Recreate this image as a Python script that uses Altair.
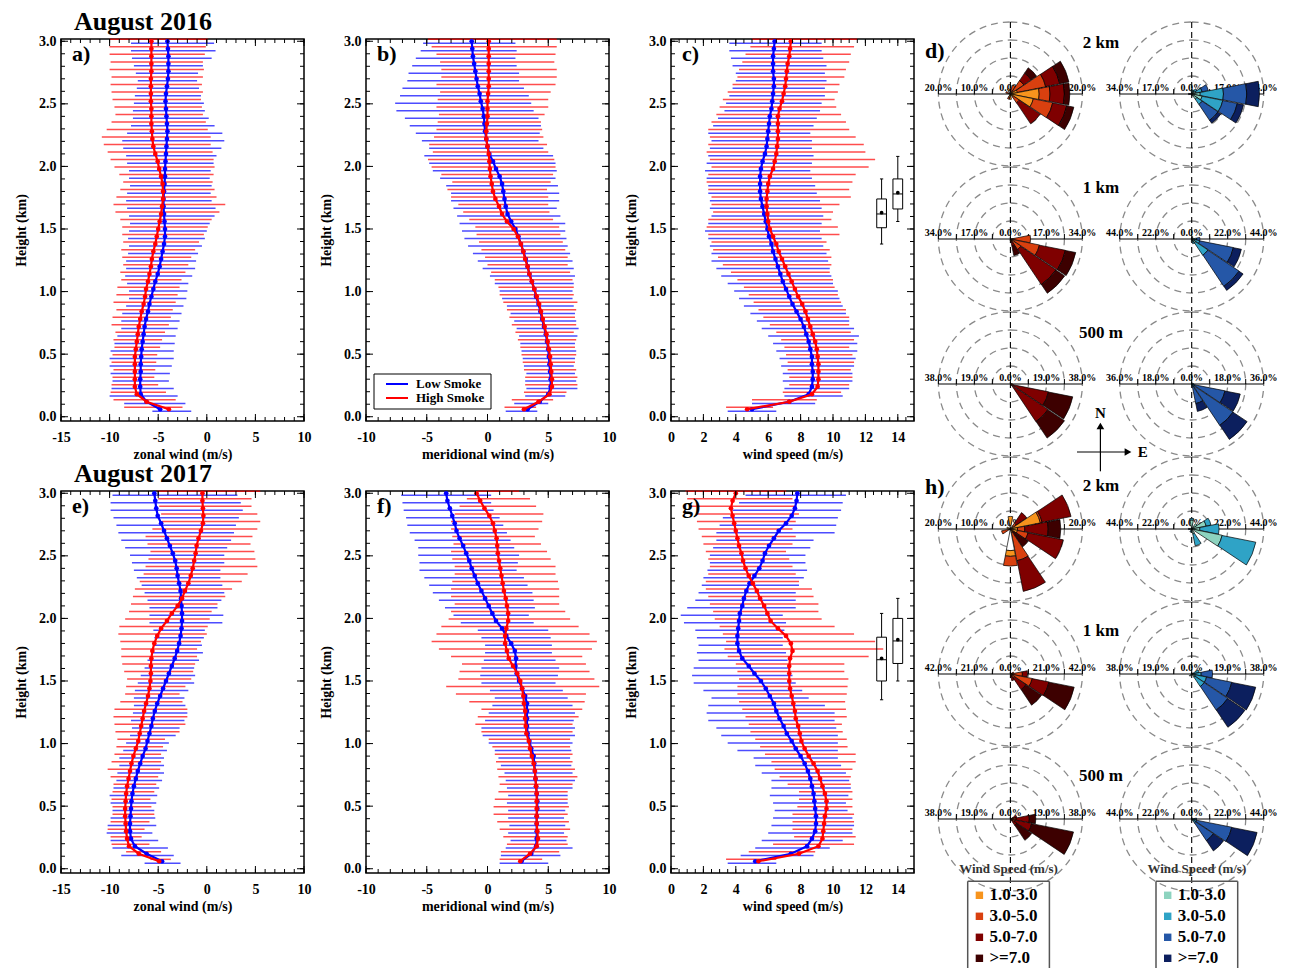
import pandas as pd
import altair as alt

FONT = "Liberation Serif"
BLUE = "#0000ff"
RED = "#ff0000"

# ---------------------------------------------------------------- profiles
HEIGHT_KM = [0.06, 0.12, 0.18, 0.24, 0.30, 0.36, 0.42, 0.48, 0.54, 0.60,
             0.66, 0.72, 0.78, 0.84, 0.90, 0.96, 1.02, 1.08, 1.14, 1.20,
             1.26, 1.32, 1.38, 1.44, 1.50, 1.56, 1.62, 1.68, 1.74, 1.80,
             1.86, 1.92, 1.98, 2.04, 2.10, 2.16, 2.22, 2.28, 2.34, 2.40,
             2.46, 2.52, 2.58, 2.64, 2.70, 2.76, 2.82, 2.88, 2.94, 3.00]

# a) zonal wind, August 2016
U16_LOW_MEAN = [-4.8, -6.2, -6.8, -6.85, -6.85, -6.8, -6.8, -6.75, -6.7, -6.6, -6.5, -6.4, -6.25, -6.05, -5.9, -5.7, -5.5, -5.3, -5.05, -4.85, -4.7, -4.55, -4.4, -4.3, -4.3, -4.35, -4.4, -4.45, -4.45, -4.4, -4.35, -4.3, -4.3, -4.25, -4.2, -4.15, -4.1, -4.05, -4.1, -4.15, -4.2, -4.25, -4.2, -4.1, -4.0, -3.95, -3.95, -3.95, -4.0, -4.05]
U16_LOW_LO = [-5.6, -8.5, -10.0, -9.8, -9.7, -9.9, -10.0, -10.0, -9.9, -9.5, -9.2, -8.8, -8.8, -8.7, -8.3, -8.0, -8.0, -8.2, -8.4, -8.3, -8.3, -8.1, -8.0, -8.1, -8.0, -7.9, -8.0, -8.2, -8.3, -8.2, -7.9, -8.0, -8.0, -8.2, -8.3, -8.6, -8.7, -8.2, -7.8, -7.6, -7.6, -7.5, -7.4, -7.2, -7.1, -7.3, -7.5, -7.7, -7.8, -7.8]
U16_LOW_HI = [-1.6, -2.2, -3.0, -3.4, -3.9, -3.8, -3.6, -3.4, -3.4, -3.3, -3.2, -3.0, -2.8, -2.6, -2.4, -2.1, -2.0, -1.9, -1.5, -1.2, -1.1, -0.9, -0.5, -0.2, 0.0, 0.3, 0.8, 0.9, 0.5, 0.4, 0.5, 0.3, 0.4, 0.7, 1.0, 1.5, 1.8, 1.6, 0.8, 0.2, -0.2, -0.3, -0.6, -0.8, -1.0, -0.9, -0.4, 0.5, 0.9, 0.75]
U16_HIGH_MEAN = [-3.9, -6.2, -7.2, -7.4, -7.4, -7.4, -7.4, -7.4, -7.3, -7.2, -7.1, -7.0, -6.85, -6.7, -6.5, -6.35, -6.25, -6.05, -5.9, -5.75, -5.65, -5.5, -5.3, -5.15, -5.0, -4.85, -4.7, -4.6, -4.5, -4.5, -4.55, -4.7, -4.9, -5.05, -5.3, -5.5, -5.6, -5.65, -5.7, -5.7, -5.7, -5.75, -5.75, -5.75, -5.75, -5.7, -5.7, -5.7, -5.7, -5.7]
U16_HIGH_LO = [-8.5, -9.6, -9.9, -9.8, -9.7, -9.6, -9.8, -9.7, -9.5, -9.6, -9.4, -9.8, -9.7, -9.3, -9.6, -9.3, -9.2, -8.8, -8.9, -8.6, -8.7, -8.8, -8.6, -8.7, -8.7, -8.9, -9.4, -9.6, -9.3, -8.9, -8.6, -9.0, -9.5, -9.9, -10.2, -10.6, -10.8, -10.3, -9.8, -9.4, -9.5, -9.7, -9.8, -9.9, -9.8, -10.0, -9.9, -10.0, -10.0, -10.0]
U16_HIGH_HI = [-2.5, -3.2, -4.2, -5.0, -5.4, -5.3, -5.2, -5.1, -4.8, -4.6, -4.3, -3.9, -3.7, -3.5, -3.2, -3.0, -2.8, -2.6, -2.2, -1.9, -1.6, -1.2, -0.8, -0.3, 0.1, 0.5, 1.3, 1.9, 1.0, 0.8, 0.6, 0.7, 0.8, 0.7, 0.6, 0.4, 0.4, 0.1, -0.1, -0.4, -0.5, -0.6, -0.4, -0.5, -0.4, -0.3, -0.4, -0.2, -0.1, 0.1]

# b) meridional wind, August 2016
V16_LOW_MEAN = [3.3, 4.3, 5.0, 5.2, 5.2, 5.15, 5.1, 5.05, 5.0, 4.9, 4.8, 4.65, 4.5, 4.35, 4.2, 4.0, 3.85, 3.65, 3.45, 3.3, 3.15, 2.95, 2.75, 2.55, 2.3, 1.95, 1.65, 1.5, 1.4, 1.3, 1.2, 1.0, 0.7, 0.45, 0.15, 0.0, -0.1, -0.2, -0.25, -0.3, -0.4, -0.55, -0.65, -0.8, -0.9, -1.0, -1.1, -1.2, -1.25, -1.3]
V16_LOW_LO = [1.5, 2.2, 3.1, 3.2, 3.1, 3.2, 3.0, 2.9, 2.8, 2.7, 2.6, 2.4, 2.2, 1.9, 1.6, 1.2, 1.0, 0.6, 0.2, -0.4, -0.8, -1.2, -1.6, -1.9, -2.1, -2.3, -2.5, -2.8, -3.0, -3.0, -3.4, -3.9, -4.5, -4.8, -5.2, -4.8, -5.4, -5.9, -6.4, -6.8, -7.5, -7.6, -7.2, -7.0, -6.6, -6.5, -6.2, -5.9, -5.5, -5.3]
V16_LOW_HI = [4.1, 5.0, 6.4, 7.4, 7.3, 7.2, 7.1, 7.2, 7.3, 7.2, 7.4, 7.5, 7.3, 7.2, 7.1, 7.0, 7.0, 7.1, 7.2, 7.1, 7.0, 6.8, 6.6, 6.5, 6.4, 6.4, 6.0, 5.7, 5.9, 5.9, 5.8, 5.6, 5.7, 5.6, 5.4, 4.6, 4.2, 4.3, 4.4, 4.2, 3.8, 3.6, 3.4, 3.0, 2.6, 2.6, 2.4, 2.3, 2.4, 2.3]
V16_HIGH_MEAN = [3.0, 4.2, 5.1, 5.3, 5.3, 5.25, 5.2, 5.15, 5.05, 4.95, 4.85, 4.7, 4.55, 4.4, 4.25, 4.05, 3.85, 3.65, 3.45, 3.3, 3.1, 2.95, 2.75, 2.5, 2.15, 1.6, 1.2, 0.95, 0.65, 0.45, 0.35, 0.25, 0.2, 0.15, 0.1, 0.0, -0.1, -0.1, -0.05, 0.0, 0.0, 0.0, 0.05, 0.1, 0.1, 0.1, 0.1, 0.1, 0.1, 0.1]
V16_HIGH_LO = [1.4, 2.0, 3.0, 3.1, 3.1, 3.0, 2.9, 2.8, 2.7, 2.5, 2.3, 2.0, 1.8, 1.6, 1.3, 1.0, 0.9, 0.6, 0.3, 0.0, -0.2, -0.5, -0.7, -0.9, -1.0, -1.5, -2.0, -2.4, -3.0, -3.3, -2.9, -3.8, -4.6, -4.9, -4.5, -4.8, -4.4, -4.2, -4.1, -4.0, -4.2, -4.1, -3.9, -4.2, -3.8, -3.8, -3.9, -4.2, -4.6, -4.9]
V16_HIGH_HI = [4.0, 5.4, 6.5, 7.4, 7.4, 7.3, 7.2, 7.3, 7.2, 7.3, 7.1, 7.3, 7.2, 7.3, 7.4, 7.1, 7.1, 7.0, 6.8, 6.6, 6.6, 6.4, 6.2, 6.0, 5.9, 5.4, 5.1, 5.0, 5.0, 4.9, 5.2, 5.4, 5.6, 5.5, 5.0, 4.9, 4.6, 4.5, 4.4, 4.7, 5.0, 5.0, 5.2, 5.6, 5.7, 5.7, 5.5, 5.6, 5.7, 5.7]

# c) wind speed, August 2016
S16_LOW_MEAN = [5.0, 7.3, 8.5, 8.7, 8.75, 8.75, 8.7, 8.7, 8.6, 8.5, 8.35, 8.2, 8.0, 7.75, 7.5, 7.3, 7.1, 6.9, 6.75, 6.6, 6.45, 6.3, 6.2, 6.05, 5.95, 5.85, 5.75, 5.65, 5.55, 5.5, 5.5, 5.5, 5.55, 5.65, 5.8, 5.9, 5.95, 6.0, 6.05, 6.1, 6.2, 6.25, 6.3, 6.35, 6.35, 6.3, 6.3, 6.3, 6.35, 6.4]
S16_LOW_LO = [3.5, 5.0, 7.0, 7.0, 6.9, 6.9, 6.8, 6.7, 6.5, 6.3, 6.0, 5.6, 5.3, 4.9, 4.5, 4.2, 3.9, 3.5, 3.1, 2.8, 2.5, 2.5, 2.4, 2.3, 2.1, 2.3, 2.5, 2.4, 2.4, 2.3, 2.3, 2.2, 2.1, 2.2, 2.3, 2.4, 2.5, 2.3, 2.6, 2.9, 3.3, 3.4, 3.6, 3.8, 4.0, 4.0, 3.8, 3.7, 3.6, 3.6]
S16_LOW_HI = [6.5, 8.9, 10.6, 11.0, 11.2, 11.2, 11.3, 11.4, 11.5, 11.5, 11.6, 11.3, 11.0, 10.8, 10.6, 10.4, 10.3, 10.0, 9.9, 9.8, 9.7, 9.6, 9.4, 9.3, 9.2, 9.3, 9.4, 9.3, 9.2, 9.0, 8.9, 8.7, 8.6, 8.7, 8.8, 8.7, 8.7, 8.6, 8.8, 9.0, 9.2, 9.3, 9.5, 9.5, 9.6, 9.5, 9.6, 9.4, 9.3, 9.3]
S16_HIGH_MEAN = [4.7, 7.3, 8.7, 9.05, 9.1, 9.1, 9.1, 9.05, 9.0, 8.9, 8.75, 8.6, 8.45, 8.3, 8.1, 7.85, 7.65, 7.45, 7.25, 7.05, 6.85, 6.65, 6.5, 6.3, 6.1, 6.0, 5.95, 5.9, 5.9, 5.95, 6.0, 6.1, 6.3, 6.4, 6.5, 6.55, 6.6, 6.6, 6.6, 6.6, 6.7, 6.85, 6.95, 7.05, 7.1, 7.15, 7.2, 7.3, 7.35, 7.4]
S16_HIGH_LO = [3.4, 5.0, 6.9, 7.3, 7.3, 7.2, 7.2, 7.1, 7.0, 6.8, 6.5, 6.1, 5.7, 5.4, 5.1, 4.8, 4.5, 4.1, 3.7, 3.2, 2.9, 2.6, 2.5, 2.3, 2.2, 2.3, 2.6, 2.5, 2.5, 2.3, 2.2, 2.3, 2.5, 2.4, 2.2, 2.3, 2.4, 2.3, 2.5, 2.8, 3.0, 3.2, 3.5, 3.8, 4.1, 4.2, 4.4, 4.6, 4.9, 5.0]
S16_HIGH_HI = [6.3, 9.0, 10.5, 11.0, 11.2, 11.1, 11.3, 11.2, 11.0, 11.3, 11.1, 11.0, 11.0, 10.8, 10.5, 10.3, 10.1, 10.0, 9.8, 9.9, 9.9, 9.8, 9.6, 10.4, 10.3, 9.9, 10.0, 10.4, 11.1, 11.0, 11.2, 11.4, 12.2, 12.6, 12.0, 11.9, 11.4, 11.0, 10.8, 10.5, 10.2, 10.1, 10.3, 10.4, 10.7, 10.8, 11.0, 11.1, 11.3, 11.5]

# e) zonal wind, August 2017
U17_LOW_MEAN = [-4.6, -6.2, -7.4, -7.8, -7.9, -7.9, -7.85, -7.8, -7.75, -7.65, -7.5, -7.3, -7.1, -6.85, -6.6, -6.3, -6.1, -5.9, -5.7, -5.55, -5.35, -5.1, -4.8, -4.5, -4.2, -3.9, -3.6, -3.3, -3.05, -2.85, -2.7, -2.6, -2.55, -2.55, -2.6, -2.65, -2.7, -2.85, -3.0, -3.1, -3.25, -3.5, -3.8, -4.1, -4.4, -4.7, -5.05, -5.2, -5.3, -5.4]
U17_LOW_LO = [-6.4, -8.8, -9.7, -9.9, -10.3, -10.2, -9.9, -9.7, -9.9, -10.0, -9.6, -9.3, -9.2, -9.0, -9.0, -8.6, -8.3, -7.9, -7.7, -7.8, -7.6, -7.5, -7.5, -7.4, -7.1, -6.8, -6.4, -6.1, -5.6, -5.5, -5.4, -5.5, -5.9, -5.9, -5.9, -6.1, -6.4, -6.7, -7.2, -7.5, -7.7, -7.9, -8.4, -8.8, -9.1, -9.3, -9.6, -9.9, -9.9, -9.7]
U17_LOW_HI = [-2.7, -3.4, -4.0, -5.0, -5.6, -5.2, -5.3, -5.4, -5.2, -5.1, -4.9, -4.6, -4.4, -4.4, -4.4, -4.1, -3.9, -3.2, -2.8, -2.3, -2.0, -2.2, -2.3, -1.9, -1.3, -1.2, -1.3, -0.8, -0.4, -0.5, -0.3, -0.2, 1.6, 1.7, 1.1, 1.5, 1.8, 1.6, 1.4, 1.4, 1.8, 1.8, 2.1, 2.5, 2.8, 3.0, 3.3, 3.7, 3.5, 3.15]
U17_HIGH_MEAN = [-4.9, -7.0, -8.0, -8.2, -8.3, -8.35, -8.4, -8.4, -8.35, -8.3, -8.2, -8.05, -7.9, -7.75, -7.55, -7.3, -7.05, -6.9, -6.75, -6.6, -6.45, -6.25, -6.05, -5.9, -5.8, -5.75, -5.75, -5.7, -5.6, -5.4, -5.1, -4.7, -4.1, -3.6, -3.0, -2.55, -2.25, -1.9, -1.65, -1.45, -1.3, -1.15, -1.05, -0.85, -0.6, -0.4, -0.35, -0.4, -0.45, -0.45]
U17_HIGH_LO = [-5.8, -8.3, -9.8, -9.9, -10.2, -9.9, -9.7, -9.7, -9.8, -9.7, -9.6, -9.9, -10.2, -9.8, -9.5, -9.3, -9.2, -9.4, -9.5, -9.6, -9.5, -8.9, -8.4, -8.3, -8.2, -8.5, -8.7, -8.8, -8.8, -8.9, -9.1, -9.0, -8.4, -8.0, -7.8, -7.6, -7.4, -6.9, -6.5, -6.3, -6.0, -5.8, -6.1, -6.3, -5.6, -4.6, -4.7, -4.9, -5.0, -5.1]
U17_HIGH_HI = [-3.7, -4.7, -5.9, -6.7, -6.4, -5.9, -5.4, -5.7, -5.8, -5.4, -5.2, -5.0, -4.8, -4.7, -4.7, -4.5, -4.3, -2.8, -2.2, -2.0, -2.0, -2.5, -2.8, -2.2, -1.6, -1.4, -1.2, -1.0, -1.0, -0.6, 0.0, 0.1, 0.3, 0.5, 1.1, 1.9, 2.6, 3.6, 4.2, 5.2, 5.0, 4.9, 4.5, 4.7, 5.2, 5.5, 5.2, 4.6, 4.6, 5.5]

# f) meridional wind, August 2017
V17_LOW_MEAN = [2.8, 3.6, 4.0, 4.05, 4.05, 4.05, 4.05, 4.1, 4.1, 4.05, 4.0, 3.95, 3.9, 3.85, 3.8, 3.6, 3.45, 3.3, 3.25, 3.25, 3.25, 3.25, 3.1, 2.85, 2.6, 2.4, 2.3, 2.35, 2.25, 1.95, 1.55, 1.2, 0.7, 0.4, 0.1, -0.2, -0.5, -0.8, -1.05, -1.3, -1.5, -1.75, -2.0, -2.3, -2.55, -2.7, -2.9, -3.1, -3.3, -3.4]
V17_LOW_LO = [1.0, 1.1, 1.5, 1.9, 1.7, 1.8, 1.7, 1.7, 1.6, 1.7, 1.6, 1.5, 1.4, 1.1, 0.9, 0.6, 0.1, -0.4, -0.5, -0.2, 0.1, 0.4, 0.6, 0.2, -0.5, -0.6, -0.5, -0.3, -0.2, -0.2, -0.5, -0.8, -2.2, -2.8, -3.5, -4.0, -4.5, -4.8, -5.2, -5.6, -5.6, -5.7, -5.7, -6.0, -6.4, -6.6, -6.7, -6.9, -7.0, -7.1]
V17_LOW_HI = [5.0, 6.0, 7.0, 6.5, 6.3, 6.4, 6.3, 6.4, 6.6, 6.6, 7.0, 7.2, 7.0, 6.9, 6.8, 6.9, 7.0, 7.2, 7.2, 7.1, 7.2, 7.0, 6.6, 6.2, 5.6, 5.8, 5.9, 5.6, 5.3, 5.3, 5.2, 5.0, 3.8, 3.4, 3.9, 3.8, 3.7, 3.3, 3.0, 2.4, 2.5, 2.6, 2.2, 1.9, 1.6, 1.3, 1.0, 0.5, 0.3, 0.3]
V17_HIGH_MEAN = [2.7, 3.5, 4.05, 4.15, 4.1, 4.05, 4.05, 4.05, 4.05, 4.05, 4.0, 3.95, 3.9, 3.8, 3.65, 3.5, 3.4, 3.2, 3.15, 3.1, 3.1, 3.0, 2.95, 2.85, 2.7, 2.45, 2.1, 1.75, 1.6, 1.45, 1.45, 1.55, 1.7, 1.7, 1.6, 1.5, 1.35, 1.25, 1.15, 1.05, 0.95, 0.85, 0.8, 0.75, 0.6, 0.45, 0.15, -0.25, -0.6, -0.9]
V17_HIGH_LO = [1.0, 1.1, 1.6, 1.3, 1.0, 0.8, 0.5, 0.5, 0.6, 0.9, 1.0, 0.9, 0.8, 0.7, 0.6, 0.4, 0.1, -0.5, -1.0, -0.8, -0.5, -1.5, -2.6, -3.4, -2.4, -2.3, -2.1, -3.0, -4.0, -4.6, -4.2, -3.8, -3.2, -3.0, -2.7, -3.0, -3.0, -2.9, -2.7, -2.7, -2.9, -3.0, -2.8, -2.9, -3.0, -3.0, -2.7, -2.3, -1.7, -0.8]
V17_HIGH_HI = [4.5, 5.9, 6.6, 6.6, 6.8, 6.7, 6.6, 6.7, 6.6, 6.6, 7.0, 7.4, 7.2, 7.0, 7.0, 6.8, 6.8, 7.0, 7.0, 7.5, 7.8, 8.0, 8.1, 9.2, 8.8, 8.4, 8.1, 7.8, 8.6, 9.0, 8.4, 7.5, 6.8, 6.4, 5.9, 5.9, 5.9, 5.8, 5.6, 5.6, 5.2, 4.9, 4.4, 3.9, 4.2, 4.5, 4.6, 4.0, 3.5, 2.6]

# g) wind speed, August 2017
S17_LOW_MEAN = [5.2, 7.4, 8.4, 8.7, 8.9, 8.95, 8.95, 8.9, 8.85, 8.8, 8.7, 8.6, 8.45, 8.25, 8.0, 7.7, 7.45, 7.15, 6.95, 6.7, 6.5, 6.35, 6.1, 5.85, 5.55, 5.15, 4.8, 4.4, 4.2, 4.1, 4.1, 4.15, 4.2, 4.25, 4.4, 4.5, 4.65, 4.85, 5.15, 5.45, 5.65, 5.8, 6.05, 6.35, 6.65, 7.1, 7.45, 7.65, 7.75, 7.8]
S17_LOW_LO = [3.5, 4.3, 5.2, 5.6, 6.0, 6.2, 6.3, 6.4, 6.3, 6.1, 6.2, 6.2, 5.6, 5.2, 5.1, 4.1, 3.5, 3.1, 2.8, 2.3, 2.2, 2.3, 2.5, 2.0, 1.4, 1.3, 1.4, 1.7, 1.6, 1.7, 1.6, 1.5, 0.8, 0.6, 1.0, 1.5, 1.7, 1.9, 2.0, 2.25, 2.4, 2.4, 2.6, 2.8, 2.8, 3.0, 3.2, 3.8, 4.2, 4.6]
S17_LOW_HI = [6.5, 8.8, 9.8, 10.6, 11.2, 11.3, 11.2, 10.9, 10.8, 10.95, 11.1, 11.0, 10.8, 10.5, 10.3, 10.3, 10.3, 10.3, 10.2, 10.1, 10.1, 9.5, 8.5, 8.1, 7.7, 7.5, 7.3, 7.2, 7.1, 6.9, 6.9, 7.0, 7.1, 6.9, 7.7, 7.7, 7.7, 7.9, 8.2, 8.4, 8.3, 8.3, 8.6, 8.8, 10.1, 10.2, 10.3, 10.5, 10.6, 10.8]
S17_HIGH_MEAN = [5.4, 7.9, 9.1, 9.35, 9.4, 9.45, 9.5, 9.6, 9.6, 9.5, 9.35, 9.2, 9.05, 8.8, 8.5, 8.25, 8.05, 7.95, 7.85, 7.7, 7.65, 7.55, 7.45, 7.35, 7.3, 7.3, 7.3, 7.35, 7.5, 7.4, 7.1, 6.6, 6.15, 5.95, 5.75, 5.5, 5.3, 5.05, 4.8, 4.6, 4.45, 4.35, 4.2, 4.1, 4.0, 3.9, 3.8, 3.7, 3.8, 4.0]
S17_HIGH_LO = [3.4, 4.8, 6.3, 7.6, 7.5, 7.5, 7.5, 7.8, 7.9, 7.9, 7.2, 6.7, 6.4, 6.2, 5.8, 5.5, 5.2, 4.9, 4.8, 4.6, 4.4, 4.2, 4.1, 4.1, 4.2, 4.1, 4.0, 3.5, 3.3, 3.4, 3.2, 3.0, 2.7, 2.6, 2.4, 2.3, 2.15, 2.15, 2.3, 2.4, 2.3, 2.15, 2.0, 1.9, 1.7, 1.6, 1.6, 1.2, 1.0, 0.9]
S17_HIGH_HI = [6.5, 8.9, 11.3, 11.4, 11.2, 11.3, 11.3, 11.2, 11.2, 11.2, 11.1, 11.1, 11.2, 11.4, 11.4, 10.9, 10.85, 10.6, 10.55, 10.85, 10.8, 10.75, 10.85, 10.9, 10.95, 10.7, 10.7, 12.2, 13.1, 12.6, 11.3, 10.1, 9.3, 9.1, 9.1, 8.8, 8.7, 7.9, 7.7, 7.5, 7.3, 7.1, 7.5, 7.7, 7.5, 7.7, 7.9, 7.7, 7.5, 7.1]

# boundary-layer-top box plots (km) drawn at x = 13 and 14 in c) and g)
BOX_POS = [13, 14]
BOX16_WLO = [1.38, 1.56]
BOX16_Q1 = [1.51, 1.66]
BOX16_MED = [1.62, 1.78]
BOX16_Q3 = [1.74, 1.90]
BOX16_WHI = [1.90, 2.08]
BOX16_MEAN = [1.63, 1.79]
BOX17_WLO = [1.35, 1.50]
BOX17_Q1 = [1.50, 1.64]
BOX17_MED = [1.67, 1.82]
BOX17_Q3 = [1.85, 2.00]
BOX17_WHI = [2.04, 2.16]
BOX17_MEAN = [1.68, 1.83]

# ---------------------------------------------------------------- wind roses
# (direction deg, calm, 1-3, 3-5, 5-7, >=7) frequencies in %
SPEED_LABELS = ["1.0-3.0", "3.0-5.0", "5.0-7.0", ">=7.0"]
HOT = ["#ffffff", "#f7941d", "#d9400f", "#7f0000", "#3d0000"]
COOL = ["#ffffff", "#8dd3bf", "#2fa3c6", "#2557a7", "#0c1f5e"]

ROSE_D_2KM_LOW = [(22.5, 0, 0.5, 2.0, 0, 0), (45, 0, 1.0, 3.5, 2.5, 1.8), (67.5, 0, 2.0, 8.0, 4.0, 2.6),
                  (90, 0, 8.0, 3.0, 4.0, 1.5), (112.5, 0, 6.5, 5.5, 4.0, 2.0), (135, 0, 1.0, 2.0, 7.0, 0),
                  (180, 0, 1.5, 0, 0, 0), (202.5, 0, 1.0, 0.5, 0, 0), (292.5, 0, 0.5, 0.8, 0, 0),
                  (337.5, 1.0, 0.5, 0, 0, 0)]
ROSE_D_2KM_HIGH = [(0, 0, 1.5, 0, 0, 0), (22.5, 0, 1.0, 1.0, 0, 0), (45, 0, 1.5, 1.5, 0, 0),
                   (67.5, 0, 2.0, 3.0, 3.0, 0), (90, 0, 4.0, 11.0, 11.0, 6.0), (112.5, 0, 5.0, 10.0, 7.0, 3.0),
                   (135, 0, 3.0, 3.0, 9.0, 1.7), (157.5, 0, 1.0, 0, 0, 0), (270, 0, 0, 0, 0, 1.5)]
ROSE_D_1KM_LOW = [(90, 0, 1.0, 8.5, 0, 0), (112.5, 0, 1.0, 13.0, 12.5, 5.0), (135, 0, 0.5, 5.5, 20.0, 5.0),
                  (157.5, 0, 0.5, 1.0, 2.0, 4.5), (180, 0, 0.8, 0, 0, 0)]
ROSE_D_1KM_HIGH = [(22.5, 0, 1.5, 0, 0, 0), (90, 0, 1.0, 2.0, 2.0, 0), (112.5, 0, 2.0, 3.0, 21.0, 5.0),
                   (135, 0, 3.0, 9.0, 23.0, 3.0), (157.5, 0, 1.0, 2.0, 0, 0), (180, 0, 1.5, 0, 0, 0)]
ROSE_D_500M_LOW = [(90, 0, 0, 1.0, 0, 0), (112.5, 0, 0, 1.5, 19.0, 13.1), (135, 0, 0, 1.0, 23.0, 10.5)]
ROSE_D_500M_HIGH = [(90, 0, 0.5, 0.5, 0, 0), (112.5, 0, 0.5, 1.0, 15.5, 7.8), (135, 0, 0.5, 1.0, 23.5, 8.5),
                    (157.5, 0, 0, 1.0, 9.0, 4.0)]
ROSE_H_2KM_LOW = [(0, 1.0, 2.5, 0, 0, 0), (45, 0, 1.0, 1.0, 3.5, 0), (67.5, 0.5, 8.0, 0.5, 8.2, 0),
                  (90, 0, 2.0, 2.0, 6.5, 3.5), (112.5, 0, 2.0, 3.0, 10.0, 0), (135, 0, 0, 1.0, 0, 5.0),
                  (157.5, 0, 1.0, 8.0, 8.7, 0), (180, 6.0, 1.6, 2.7, 0, 0), (247.5, 0, 0.5, 2.0, 0, 0),
                  (292.5, 0, 1.0, 0, 0, 0)]
ROSE_H_2KM_HIGH = [(0, 0, 5.5, 1.0, 0, 0), (45, 0, 4.0, 0, 0, 0), (67.5, 0, 9.0, 3.0, 0, 0),
                   (90, 0, 5.0, 11.7, 0, 0), (112.5, 0, 19.0, 21.0, 0, 0), (157.5, 0, 3.0, 7.5, 0, 0),
                   (202.5, 0, 1.0, 1.0, 0, 0), (270, 0, 1.0, 0, 0, 1.0)]
ROSE_H_1KM_LOW = [(67.5, 0, 0.5, 1.5, 0, 0), (90, 0, 1.0, 6.0, 3.0, 0), (112.5, 0, 1.0, 12.0, 10.0, 15.0),
                  (135, 0, 1.0, 2.0, 8.0, 11.0), (157.5, 0, 0.5, 1.0, 2.5, 0)]
ROSE_H_1KM_HIGH = [(67.5, 0, 1.0, 3.0, 0, 0), (90, 0, 1.0, 4.0, 6.0, 0), (112.5, 0, 2.0, 6.0, 13.6, 12.9),
                   (135, 0, 2.0, 6.0, 15.0, 11.0), (225, 0, 1.5, 0, 0, 0)]
ROSE_H_500M_LOW = [(67.5, 0, 0.5, 1.0, 2.0, 0), (90, 0, 1.0, 2.0, 7.0, 3.4), (112.5, 0, 0.5, 2.0, 9.0, 22.5),
                   (135, 0, 0, 0, 4.0, 9.6)]
ROSE_H_500M_HIGH = [(90, 0, 0.5, 1.5, 1.0, 0), (112.5, 0, 1.0, 2.0, 22.0, 15.8), (135, 0, 1.0, 2.0, 13.0, 7.6)]

ROSE_TABLES = [ROSE_D_2KM_LOW, ROSE_D_2KM_HIGH, ROSE_D_1KM_LOW, ROSE_D_1KM_HIGH,
               ROSE_D_500M_LOW, ROSE_D_500M_HIGH, ROSE_H_2KM_LOW, ROSE_H_2KM_HIGH,
               ROSE_H_1KM_LOW, ROSE_H_1KM_HIGH, ROSE_H_500M_LOW, ROSE_H_500M_HIGH]
ROSE_MAX = [20, 34, 34, 44, 38, 36, 20, 44, 42, 38, 38, 44]
LEVEL_NAMES = ["2 km", "1 km", "500 m"]

# ---------------------------------------------------------------- layout
PW, PH = 243, 382
Y_DOM = [-0.034, 3.018]
Y_MAJOR = [0, 0.5, 1.0, 1.5, 2.0, 2.5, 3.0]
Y_MINOR = [i / 10 for i in range(31)]
TICK_MAJOR, TICK_MINOR = 7, 4
BOX_HALF, CAP_HALF = 0.3, 0.1
SIGNED = "(datum.value < 0 ? '-' : '') + format(abs(datum.value), 'd')"
PLAIN = "format(datum.value, 'd')"

ROSE_R = 72
ROSE_CX = [34.4, 215.7]
ROSE_CY = [55, 200, 345, 490, 635, 780]


def profile(low, high, xdom, xmajor, xminor, xtitle, tag, labexpr, title=None, box=None, legend=False):
    xsc = alt.Scale(domain=xdom, nice=False, zero=False)
    ysc = alt.Scale(domain=Y_DOM, nice=False, zero=False)
    xax = alt.Axis(values=xmajor, title=xtitle, grid=False, ticks=False, domain=False, labelExpr=labexpr,
                   labelPadding=9, titlePadding=3, labelFlush=False, labelOverlap=False)
    yax = alt.Axis(values=Y_MAJOR, title="Height (km)", grid=False, ticks=False, domain=False, format=".1f",
                   labelPadding=5, titlePadding=10, labelFlush=False, labelOverlap=False)

    def X(f):
        return alt.X(f, type="quantitative", scale=xsc, axis=xax)

    def Y(f):
        return alt.Y(f, type="quantitative", scale=ysc, axis=yax)

    series = [(BLUE, low, 1.9), (RED, high, -1.9)]
    layers = []
    for col, (m, lo, hi), off in series:
        d = pd.DataFrame({"h": HEIGHT_KM, "mean": m, "lo": lo, "hi": hi})
        layers.append(alt.Chart(d).mark_rule(color=col, strokeWidth=1.5, opacity=0.7, yOffset=off)
                      .encode(x=X("lo"), x2="hi", y=Y("h")))
    for col, (m, lo, hi), off in series:
        d = pd.DataFrame({"h": HEIGHT_KM, "mean": m})
        layers.append(alt.Chart(d).mark_line(color=col, strokeWidth=2.2,
                                             point=alt.OverlayMarkDef(color=col, filled=True, size=22))
                      .encode(x=X("mean"), y=Y("h"), order="h:Q"))

    # inward ticks on all four sides
    for vals, ln in ((xmajor, TICK_MAJOR), (xminor, TICK_MINOR)):
        d = pd.DataFrame({"t": vals})
        layers.append(alt.Chart(d).mark_rule(color="black").encode(x=X("t"), y=alt.value(PH), y2=alt.value(PH - ln)))
        layers.append(alt.Chart(d).mark_rule(color="black").encode(x=X("t"), y=alt.value(0), y2=alt.value(ln)))
    for vals, ln in ((Y_MAJOR, TICK_MAJOR), (Y_MINOR, TICK_MINOR)):
        d = pd.DataFrame({"t": vals})
        layers.append(alt.Chart(d).mark_rule(color="black").encode(y=Y("t"), x=alt.value(0), x2=alt.value(ln)))
        layers.append(alt.Chart(d).mark_rule(color="black").encode(y=Y("t"), x=alt.value(PW), x2=alt.value(PW - ln)))

    if box is not None:
        d = pd.DataFrame({"x": BOX_POS, "wlo": box[0], "q1": box[1], "med": box[2],
                          "q3": box[3], "whi": box[4], "mean": box[5]})
        base = alt.Chart(d).transform_calculate(
            xl=f"datum.x - {BOX_HALF}", xr=f"datum.x + {BOX_HALF}",
            cl=f"datum.x - {CAP_HALF}", cr=f"datum.x + {CAP_HALF}")
        layers += [
            base.mark_rule(color="black").encode(x=X("x"), y=Y("wlo"), y2="q1"),
            base.mark_rule(color="black").encode(x=X("x"), y=Y("q3"), y2="whi"),
            base.mark_rule(color="black").encode(x=X("cl"), x2="cr", y=Y("wlo")),
            base.mark_rule(color="black").encode(x=X("cl"), x2="cr", y=Y("whi")),
            base.mark_rect(fillOpacity=0, stroke="black", strokeWidth=1).encode(x=X("xl"), x2="xr", y=Y("q1"), y2="q3"),
            base.mark_rule(color="black").encode(x=X("xl"), x2="xr", y=Y("med")),
            base.mark_point(filled=True, color="black", size=14, opacity=1).encode(x=X("x"), y=Y("mean")),
        ]

    if legend:
        one = pd.DataFrame({"k": [0]})
        layers.append(alt.Chart(one).mark_rect(fill="white", stroke="black", strokeWidth=1)
                      .encode(x=alt.value(8), x2=alt.value(125), y=alt.value(335), y2=alt.value(370)))
        for i, (name, col) in enumerate((("Low Smoke", BLUE), ("High Smoke", RED))):
            yy = 345 + 14 * i
            layers.append(alt.Chart(one).mark_rule(color=col, strokeWidth=2)
                          .encode(x=alt.value(20), x2=alt.value(42), y=alt.value(yy)))
            layers.append(alt.Chart(one).mark_text(text=name, font=FONT, fontSize=13, fontWeight="bold",
                                                   align="left", baseline="middle")
                          .encode(x=alt.value(50), y=alt.value(yy)))

    layers.append(alt.Chart(pd.DataFrame({"s": [tag]}))
                  .mark_text(font=FONT, fontSize=22, fontWeight="bold", align="left", baseline="middle")
                  .encode(text="s:N", x=alt.value(11), y=alt.value(15)))
    if title:
        layers.append(alt.Chart(pd.DataFrame({"s": [title]}))
                      .mark_text(font=FONT, fontSize=26, fontWeight="bold", align="left", baseline="alphabetic")
                      .encode(text="s:N", x=alt.value(13), y=alt.value(-9)))

    return alt.layer(*layers).properties(width=PW, height=PH)


def roses():
    XS = alt.Scale(domain=[0, PW], range=[0, PW], nice=False, zero=False)
    YS = alt.Scale(domain=[0, PH], range=[0, PH], nice=False, zero=False)
    RS = alt.Scale(type="linear", domain=[0, 1], range=[0, ROSE_R], zero=True, nice=False)
    TS = alt.Scale(domain=[0, 360], range=[0, 6.283185307], nice=False, zero=False)

    def X(f):
        return alt.X(f, type="quantitative", scale=XS, axis=None)

    def Y(f):
        return alt.Y(f, type="quantitative", scale=YS, axis=None)

    rings, hax, vax, ticks, labels, bars = [], [], [], [], [], []
    for i, (table, rmax) in enumerate(zip(ROSE_TABLES, ROSE_MAX)):
        cx, cy = ROSE_CX[i % 2], ROSE_CY[i // 2]
        pal = HOT if i % 2 == 0 else COOL
        for frac in (0.25, 0.5, 0.75, 1.0):
            rings.append({"x": cx, "y": cy, "r": frac})
        hax.append({"x0": cx - ROSE_R, "x1": cx + ROSE_R, "y": cy})
        vax.append({"x": cx, "y0": cy - ROSE_R, "y1": cy + ROSE_R})
        for k in range(-4, 5):
            ticks.append({"x": cx + k * ROSE_R / 4, "y0": cy - 5, "y1": cy})
        for k in range(-2, 3):
            labels.append({"x": cx + k * ROSE_R / 2, "y": cy - 3, "s": f"{abs(k) * rmax / 2:.1f}%"})
        for sector in table:
            d, vals = sector[0], sector[1:]
            cum = 0.0
            for b, v in enumerate(vals):
                if v <= 0:
                    continue
                bars.append({"x": cx, "y": cy, "t0": d - 11.25, "t1": d + 11.25,
                             "r0": cum / rmax, "r1": (cum + v) / rmax, "c": pal[b]})
                cum += v

    layers = [
        alt.Chart(pd.DataFrame(rings)).mark_arc(filled=False, stroke="#8a8a8a", strokeWidth=1.3, strokeDash=[7, 5])
        .encode(x=X("x"), y=Y("y"), radius=alt.Radius("r:Q", scale=RS, stack=None),
                theta=alt.value(0), theta2=alt.value(6.2832)),
        alt.Chart(pd.DataFrame(vax)).mark_rule(color="black", strokeWidth=1.1, strokeDash=[6, 4])
        .encode(x=X("x"), y=Y("y0"), y2="y1"),
        alt.Chart(pd.DataFrame(hax)).mark_rule(color="black", strokeWidth=1)
        .encode(x=X("x0"), x2="x1", y=Y("y")),
        alt.Chart(pd.DataFrame(ticks)).mark_rule(color="black", strokeWidth=1)
        .encode(x=X("x"), y=Y("y0"), y2="y1"),
        alt.Chart(pd.DataFrame(labels)).mark_text(font=FONT, fontSize=10, fontWeight="bold", baseline="alphabetic")
        .encode(x=X("x"), y=Y("y"), text="s:N"),
        alt.Chart(pd.DataFrame(bars)).mark_arc(stroke="black", strokeWidth=0.7, padAngle=0.012)
        .encode(x=X("x"), y=Y("y"),
                theta=alt.Theta("t0:Q", scale=TS, stack=None), theta2="t1",
                radius=alt.Radius("r1:Q", scale=RS, stack=None), radius2="r0",
                color=alt.Color("c:N", scale=None)),
    ]

    # level names between the two roses, and the panel letters
    mid = (ROSE_CX[0] + ROSE_CX[1]) / 2
    lev = [{"x": mid, "y": ROSE_CY[j] - (51 if j < 3 else 43), "s": LEVEL_NAMES[j % 3]} for j in range(6)]
    layers.append(alt.Chart(pd.DataFrame(lev)).mark_text(font=FONT, fontSize=17, fontWeight="bold", baseline="middle")
                  .encode(x=X("x"), y=Y("y"), text="s:N"))
    tags = pd.DataFrame({"x": [-51, -51], "y": [12.3, 447.8], "s": ["d)", "h)"]})
    layers.append(alt.Chart(tags).mark_text(font=FONT, fontSize=22, fontWeight="bold", align="left", baseline="middle")
                  .encode(x=X("x"), y=Y("y"), text="s:N"))

    # compass
    layers.append(alt.Chart(pd.DataFrame({"x": [124.4], "y0": [386], "y1": [432.3]}))
                  .mark_rule(color="black", strokeWidth=1.2).encode(x=X("x"), y=Y("y0"), y2="y1"))
    layers.append(alt.Chart(pd.DataFrame({"x0": [101], "x1": [152], "y": [413]}))
                  .mark_rule(color="black", strokeWidth=1.2).encode(x=X("x0"), x2="x1", y=Y("y")))
    layers.append(alt.Chart(pd.DataFrame({"x": [124.4], "y": [387]}))
                  .mark_point(shape="triangle-up", filled=True, size=60, color="black", opacity=1)
                  .encode(x=X("x"), y=Y("y")))
    layers.append(alt.Chart(pd.DataFrame({"x": [152], "y": [413]}))
                  .mark_point(shape="triangle-right", filled=True, size=60, color="black", opacity=1)
                  .encode(x=X("x"), y=Y("y")))
    layers.append(alt.Chart(pd.DataFrame({"x": [124.4, 166.7], "y": [374, 413], "s": ["N", "E"]}))
                  .mark_text(font=FONT, fontSize=15, fontWeight="bold", baseline="middle")
                  .encode(x=X("x"), y=Y("y"), text="s:N"))

    # speed legends
    leg_left = [-8.3, 180.0]
    leg_w = 81.7
    box_top, box_bot = 842.3, 930
    edges = []
    for lx in leg_left:
        edges += [{"x0": lx, "x1": lx + leg_w, "y0": box_top, "y1": box_top},
                  {"x0": lx, "x1": lx, "y0": box_top, "y1": box_bot},
                  {"x0": lx + leg_w, "x1": lx + leg_w, "y0": box_top, "y1": box_bot}]
    layers.append(alt.Chart(pd.DataFrame(edges)).mark_rule(color="#555555", strokeWidth=1.5)
                  .encode(x=X("x0"), x2="x1", y=Y("y0"), y2="y1"))
    sq, tx = [], []
    for lx, pal in zip(leg_left, (HOT, COOL)):
        for j, lab in enumerate(SPEED_LABELS):
            yy = 856.3 + 21 * j
            sq.append({"x": lx + 11.7, "y": yy, "c": pal[j + 1]})
            tx.append({"x": lx + 21.7, "y": yy, "s": lab})
    layers.append(alt.Chart(pd.DataFrame(sq)).mark_square(size=55, opacity=1)
                  .encode(x=X("x"), y=Y("y"), color=alt.Color("c:N", scale=None)))
    layers.append(alt.Chart(pd.DataFrame(tx)).mark_text(font=FONT, fontSize=17, fontWeight="bold",
                                                         align="left", baseline="middle")
                  .encode(x=X("x"), y=Y("y"), text="s:N"))
    ttl = pd.DataFrame({"x": [lx + leg_w / 2 for lx in leg_left], "y": [830, 830],
                        "s": ["Wind Speed (m/s)", "Wind Speed (m/s)"]})
    layers.append(alt.Chart(ttl).mark_text(font=FONT, fontSize=13, fontWeight="bold", baseline="middle", color="#333333")
                  .encode(x=X("x"), y=Y("y"), text="s:N"))

    return alt.layer(*layers).properties(width=PW, height=PH, view=alt.ViewBackground(stroke="transparent"))


ZONAL_MAJOR = [-15, -10, -5, 0, 5, 10]
ZONAL_MINOR = list(range(-15, 11))
MERID_MAJOR = [-10, -5, 0, 5, 10]
MERID_MINOR = list(range(-10, 11))
SPEED_MAJOR = [0, 2, 4, 6, 8, 10, 12, 14]
SPEED_MINOR = [i * 0.5 for i in range(31)]

pa = profile((U16_LOW_MEAN, U16_LOW_LO, U16_LOW_HI), (U16_HIGH_MEAN, U16_HIGH_LO, U16_HIGH_HI),
             [-15, 10], ZONAL_MAJOR, ZONAL_MINOR, "zonal wind (m/s)", "a)", SIGNED, title="August 2016")
pb = profile((V16_LOW_MEAN, V16_LOW_LO, V16_LOW_HI), (V16_HIGH_MEAN, V16_HIGH_LO, V16_HIGH_HI),
             [-10, 10], MERID_MAJOR, MERID_MINOR, "meridional wind (m/s)", "b)", SIGNED, legend=True)
pc = profile((S16_LOW_MEAN, S16_LOW_LO, S16_LOW_HI), (S16_HIGH_MEAN, S16_HIGH_LO, S16_HIGH_HI),
             [0, 15], SPEED_MAJOR, SPEED_MINOR, "wind speed (m/s)", "c)", PLAIN,
             box=(BOX16_WLO, BOX16_Q1, BOX16_MED, BOX16_Q3, BOX16_WHI, BOX16_MEAN))
pe = profile((U17_LOW_MEAN, U17_LOW_LO, U17_LOW_HI), (U17_HIGH_MEAN, U17_HIGH_LO, U17_HIGH_HI),
             [-15, 10], ZONAL_MAJOR, ZONAL_MINOR, "zonal wind (m/s)", "e)", SIGNED, title="August 2017")
pf = profile((V17_LOW_MEAN, V17_LOW_LO, V17_LOW_HI), (V17_HIGH_MEAN, V17_HIGH_LO, V17_HIGH_HI),
             [-10, 10], MERID_MAJOR, MERID_MINOR, "meridional wind (m/s)", "f)", SIGNED)
pg = profile((S17_LOW_MEAN, S17_LOW_LO, S17_LOW_HI), (S17_HIGH_MEAN, S17_HIGH_LO, S17_HIGH_HI),
             [0, 15], SPEED_MAJOR, SPEED_MINOR, "wind speed (m/s)", "g)", PLAIN,
             box=(BOX17_WLO, BOX17_Q1, BOX17_MED, BOX17_Q3, BOX17_WHI, BOX17_MEAN))

chart = (
    alt.concat(pa, pb, pc, roses(), pe, pf, pg, columns=4,
               spacing={"row": 70, "column": 62}, bounds="flush")
    .properties(padding={"left": 5, "top": 0, "right": 0, "bottom": 0})
    .configure_view(stroke="black", strokeWidth=1.5)
    .configure_axis(labelFont=FONT, titleFont=FONT, labelFontSize=14, titleFontSize=14,
                    labelFontWeight="bold", titleFontWeight="bold", labelColor="black", titleColor="black")
    .configure_title(font=FONT, color="black")
)

chart.save("out.html", embed_options={"renderer": "svg", "actions": False})
